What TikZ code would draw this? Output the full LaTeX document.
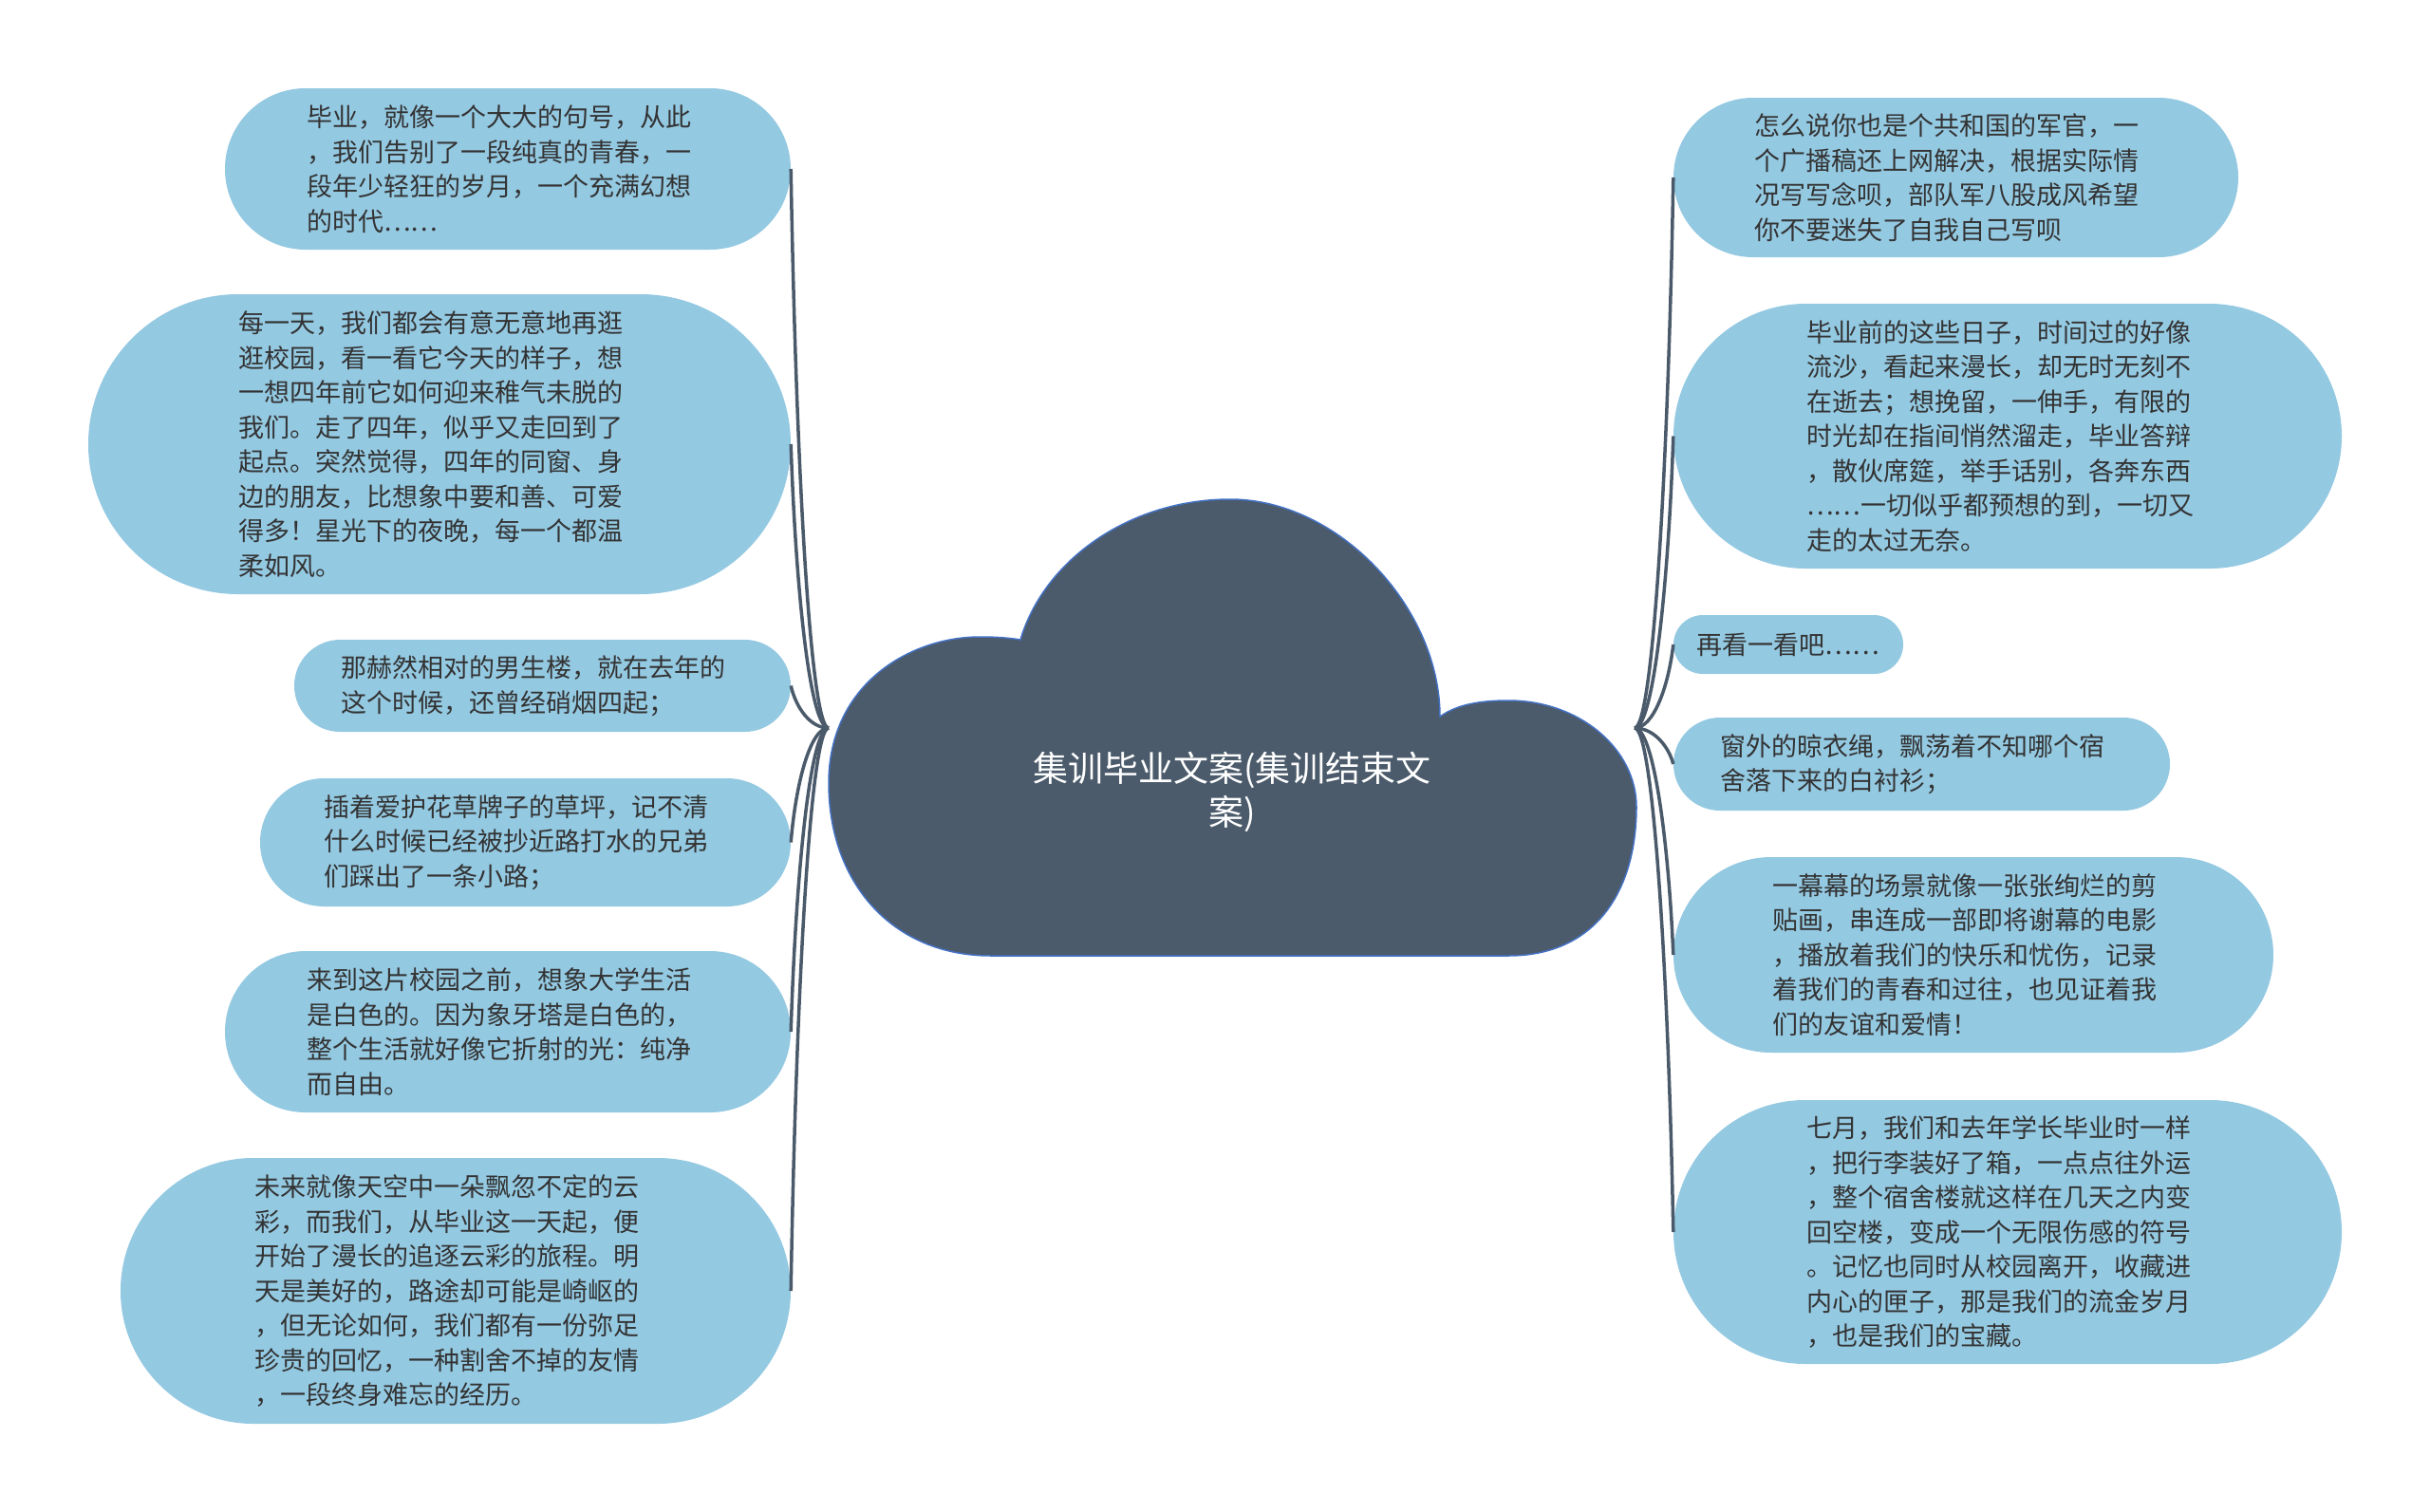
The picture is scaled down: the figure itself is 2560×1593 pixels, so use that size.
\documentclass[tikz,border=0pt]{standalone}
\usepackage{fontspec}
\setmainfont{Noto Sans CJK SC}
\usetikzlibrary{shapes.misc}
\definecolor{leafblue}{RGB}{148,201,226}
\definecolor{cloudfill}{RGB}{75,91,107}
\definecolor{cloudedge}{RGB}{68,114,196}
\definecolor{conncol}{RGB}{74,90,106}
\definecolor{txtcol}{RGB}{51,51,51}
\begin{document}
\begin{tikzpicture}[x=1pt,y=-1pt,
  leaf/.style={rounded rectangle, fill=leafblue, inner sep=0pt, text=txtcol,
    font=\fontsize{27}{36.5}\selectfont, align=left},
  conn/.style={draw=conncol, line width=3.5pt},
  titletext/.style={text=white, font=\fontsize{37}{46}\selectfont, align=center}]
\useasboundingbox[fill=white] (0,0) rectangle (2560,1593);

\coordinate (hl) at (873,767);
\coordinate (hr) at (1722,767);

% left leaves
\node[leaf, minimum width=596pt, minimum height=170pt, text width=424pt] (l1) at (535,178)
 {毕业，就像一个大大的句号，从此\\，我们告别了一段纯真的青春，一\\段年少轻狂的岁月，一个充满幻想\\的时代……};
\node[leaf, minimum width=740pt, minimum height=316pt, text width=424pt] (l2) at (463,468)
 {每一天，我们都会有意无意地再逛\\逛校园，看一看它今天的样子，想\\一想四年前它如何迎来稚气未脱的\\我们。走了四年，似乎又走回到了\\起点。突然觉得，四年的同窗、身\\边的朋友，比想象中要和善、可爱\\得多！星光下的夜晚，每一个都温\\柔如风。};
\node[leaf, minimum width=523pt, minimum height=97pt, text width=424pt] (l3) at (571.5,722.5)
 {那赫然相对的男生楼，就在去年的\\这个时候，还曾经硝烟四起；};
\node[leaf, minimum width=559pt, minimum height=135pt, text width=424pt] (l4) at (553.5,887.5)
 {插着爱护花草牌子的草坪，记不清\\什么时候已经被抄近路打水的兄弟\\们踩出了一条小路；};
\node[leaf, minimum width=596pt, minimum height=170pt, text width=424pt] (l5) at (535,1087)
 {来到这片校园之前，想象大学生活\\是白色的。因为象牙塔是白色的，\\整个生活就好像它折射的光：纯净\\而自由。};
\node[leaf, minimum width=706pt, minimum height=280pt, text width=424pt] (l6) at (480,1360)
 {未来就像天空中一朵飘忽不定的云\\彩，而我们，从毕业这一天起，便\\开始了漫长的追逐云彩的旅程。明\\天是美好的，路途却可能是崎岖的\\，但无论如何，我们都有一份弥足\\珍贵的回忆，一种割舍不掉的友情\\，一段终身难忘的经历。};

% right leaves
\node[leaf, minimum width=595pt, minimum height=168pt, text width=424pt] (r1) at (2060.5,187)
 {怎么说你也是个共和国的军官，一\\个广播稿还上网解决，根据实际情\\况写写念呗，部队军八股成风希望\\你不要迷失了自我自己写呗};
\node[leaf, minimum width=704pt, minimum height=279pt, text width=424pt] (r2) at (2115,459.5)
 {毕业前的这些日子，时间过的好像\\流沙，看起来漫长，却无时无刻不\\在逝去；想挽留，一伸手，有限的\\时光却在指间悄然溜走，毕业答辩\\，散伙席筵，举手话别，各奔东西\\……一切似乎都预想的到，一切又\\走的太过无奈。};
\node[leaf, minimum width=242pt, minimum height=62pt] (r3) at (1884,679)
 {再看一看吧……};
\node[leaf, minimum width=523pt, minimum height=98pt, text width=424pt] (r4) at (2024.5,805)
 {窗外的晾衣绳，飘荡着不知哪个宿\\舍落下来的白衬衫；};
\node[leaf, minimum width=632pt, minimum height=206pt, text width=424pt] (r5) at (2079,1006)
 {一幕幕的场景就像一张张绚烂的剪\\贴画，串连成一部即将谢幕的电影\\，播放着我们的快乐和忧伤，记录\\着我们的青春和过往，也见证着我\\们的友谊和爱情！};
\node[leaf, minimum width=704pt, minimum height=278pt, text width=424pt] (r6) at (2115,1298)
 {七月，我们和去年学长毕业时一样\\，把行李装好了箱，一点点往外运\\，整个宿舍楼就这样在几天之内变\\回空楼，变成一个无限伤感的符号\\。记忆也同时从校园离开，收藏进\\内心的匣子，那是我们的流金岁月\\，也是我们的宝藏。};

% connectors
\draw[conn] (hl) .. controls +(-20,0) and +(5,294.5) .. (l1.east);
\draw[conn] (hl) .. controls +(-20,0) and +(5,149.5) .. (l2.east);
\draw[conn] (hl) .. controls +(-20,0) and +(5,22) .. (l3.east);
\draw[conn] (hl) .. controls +(-20,0) and +(5,-60) .. (l4.east);
\draw[conn] (hl) .. controls +(-20,0) and +(5,-160) .. (l5.east);
\draw[conn] (hl) .. controls +(-20,0) and +(5,-296.5) .. (l6.east);
\draw[conn] (hr) .. controls +(20,0) and +(-5,290) .. (r1.west);
\draw[conn] (hr) .. controls +(20,0) and +(-5,154) .. (r2.west);
\draw[conn] (hr) .. controls +(20,0) and +(-5,44) .. (r3.west);
\draw[conn] (hr) .. controls +(20,0) and +(-5,-19) .. (r4.west);
\draw[conn] (hr) .. controls +(20,0) and +(-5,-119.5) .. (r5.west);
\draw[conn] (hr) .. controls +(20,0) and +(-5,-265.5) .. (r6.west);

% cloud
\path[fill=cloudfill, draw=cloudedge, line width=1.5pt]
 (1044,1007) .. controls (940,1007) and (873,930) .. (873,825)
 .. controls (873,720) and (960,671) .. (1032,671)
 .. controls (1050,671) and (1063,672) .. (1075,674)
 .. controls (1100,590) and (1190,526) .. (1296,526)
 .. controls (1410,526) and (1517,640) .. (1517,755)
 .. controls (1535,742) and (1560,738) .. (1589,738)
 .. controls (1665,738) and (1724,790) .. (1724,850)
 .. controls (1724,940) and (1680,1007) .. (1589,1007)
 -- cycle;
\node[titletext] (title) at (1298,834) {集训毕业文案(集训结束文\\案)};
\end{tikzpicture}
\end{document}
